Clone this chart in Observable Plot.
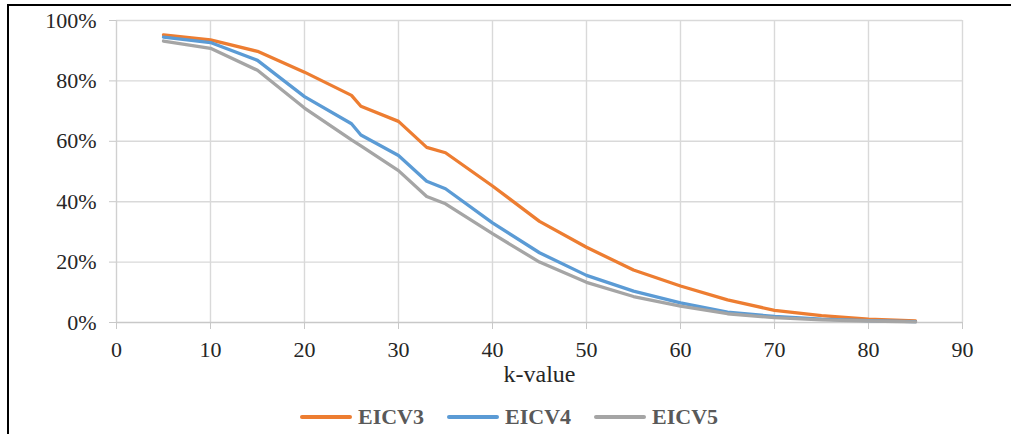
<!DOCTYPE html>
<html>
<head>
<meta charset="utf-8">
<script src="https://cdn.jsdelivr.net/npm/d3@7"></script>
<script src="https://cdn.jsdelivr.net/npm/@observablehq/plot@0.6"></script>
<style>
  html, body { margin: 0; padding: 0; background: #fff; }
  #wrap { position: relative; width: 1011px; height: 434px; overflow: hidden; font-family: "Liberation Serif", "DejaVu Serif", serif; }
  #frame { position: absolute; left: 7px; top: 4px; width: 1010px; height: 440px; border-top: 2px solid #000; border-left: 2px solid #000; box-sizing: border-box; }
  #chart { position: absolute; left: 0; top: 0; }
  #chart svg, #chart svg text { font-family: "Liberation Serif", "DejaVu Serif", serif !important; }
  #legend { position: absolute; left: 300px; top: 404px; height: 26px; display: flex; align-items: center; }
  .item { display: flex; align-items: center; margin-right: 23px; }
  .sw { width: 52px; height: 4px; border-radius: 2px; margin-right: 6px; }
  .lab { font-weight: bold; font-size: 22px; color: #595959; line-height: 26px; }
</style>
</head>
<body>
<div id="wrap">
  <div id="frame"></div>
  <div id="chart"></div>
  <div id="legend"></div>
</div>
<script>
const kValues = [5, 10, 15, 20, 25, 26, 30, 33, 35, 40, 45, 50, 55, 60, 65, 70, 75, 80, 85];
const EICV3 = [0.952, 0.936, 0.898, 0.829, 0.752, 0.716, 0.666, 0.580, 0.562, 0.452, 0.335, 0.249, 0.174, 0.121, 0.075, 0.040, 0.023, 0.011, 0.005];
const EICV4 = [0.945, 0.927, 0.868, 0.748, 0.658, 0.621, 0.553, 0.468, 0.443, 0.330, 0.231, 0.156, 0.104, 0.065, 0.034, 0.020, 0.011, 0.006, 0.003];
const EICV5 = [0.932, 0.908, 0.835, 0.710, 0.605, 0.585, 0.503, 0.417, 0.393, 0.294, 0.200, 0.133, 0.086, 0.054, 0.029, 0.016, 0.009, 0.005, 0.002];
const seriesNames = ["EICV3", "EICV4", "EICV5"];
const seriesColors = ["#ED7D31", "#5B9BD5", "#A5A5A5"];
const xTicks = [0, 10, 20, 30, 40, 50, 60, 70, 80, 90];
const yTicks = [0, 0.2, 0.4, 0.6, 0.8, 1.0];
const xLabel = "k-value";

const seriesValues = [EICV3, EICV4, EICV5];
const rows = seriesNames.flatMap((name, si) => kValues.map((k, i) => ({k, v: seriesValues[si][i], series: name})));

const serif = "'Liberation Serif', 'DejaVu Serif', serif";
const chart = Plot.plot({
  width: 1011,
  height: 400,
  marginLeft: 116,
  marginRight: 49,
  marginTop: 20,
  marginBottom: 78,
  style: {fontFamily: serif, fontSize: "22px", color: "#262626", background: "transparent"},
  x: {domain: [0, 90]},
  y: {domain: [0, 1]},
  color: {domain: seriesNames, range: seriesColors},
  marks: [
    Plot.gridX(xTicks.filter(d => d > 0), {stroke: "#D9D9D9", strokeOpacity: 1, strokeWidth: 1.4}),
    Plot.gridY(yTicks.filter(d => d > 0), {stroke: "#D9D9D9", strokeOpacity: 1, strokeWidth: 1.4}),
    Plot.ruleX([0], {stroke: "#D0D0D0", strokeWidth: 1.4}),
    Plot.ruleY([0], {stroke: "#C8C8C8", strokeWidth: 1.6}),
    Plot.axisY(yTicks, {tickFormat: d3.format(".0%"), tickSize: 7, tickPadding: 13, stroke: "#C8C8C8", label: null, fontFamily: serif, fontSize: 22}),
    Plot.axisX(xTicks, {tickFormat: d => String(d), tickSize: 7, tickPadding: 12, stroke: "#C8C8C8", label: null, fontFamily: serif, fontSize: 22}),
    Plot.axisX([], {tickSize: 0, label: xLabel, labelAnchor: "center", labelArrow: "none", labelOffset: 59, fontFamily: serif, fontSize: 24}),
    Plot.line(rows, {x: "k", y: "v", z: "series", stroke: "series", strokeWidth: 3.3, strokeLinejoin: "round", strokeLinecap: "round"})
  ]
});
document.getElementById("chart").appendChild(chart);

const legend = document.getElementById("legend");
seriesNames.forEach((name, i) => {
  const item = document.createElement("div");
  item.className = "item";
  const sw = document.createElement("div");
  sw.className = "sw";
  sw.style.background = seriesColors[i];
  const lab = document.createElement("span");
  lab.className = "lab";
  lab.textContent = name;
  item.appendChild(sw);
  item.appendChild(lab);
  legend.appendChild(item);
});
</script>
</body>
</html>
